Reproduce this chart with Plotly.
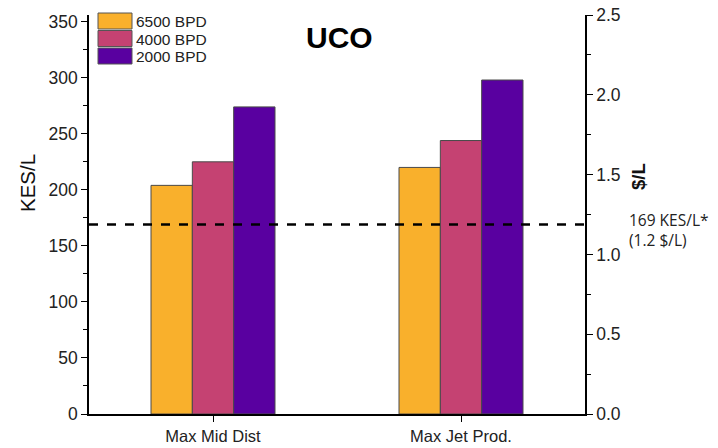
import plotly.graph_objects as go

categories = ["Max Mid Dist", "Max Jet Prod."]
series_names = ["6500 BPD", "4000 BPD", "2000 BPD"]
values_6500 = [204, 220]
values_4000 = [225, 244]
values_2000 = [274, 298]
colors = ["#F9B02C", "#C54272", "#5900A0"]
threshold_kes = 169
threshold_label = "169 KES/L*<br>(1.2 $/L)"
left_ticks = [0, 50, 100, 150, 200, 250, 300, 350]
right_ticks = [0.0, 0.5, 1.0, 1.5, 2.0, 2.5]

FONT = "Liberation Sans, Arial, sans-serif"
W, H = 718, 448
ML, MR, MT, MB = 89, 133, 15, 34
PW, PH = W - ML - MR, H - MT - MB


def px_x(p):
    return (p - ML) / PW


def px_y(p):
    return (H - MB - p) / PH


fig = go.Figure()
for name, vals, col in zip(series_names, [values_6500, values_4000, values_2000], colors):
    fig.add_trace(go.Bar(
        x=categories, y=vals, name=name, showlegend=False,
        marker=dict(color=col, line=dict(color="#4a4a4a", width=1)),
    ))

# invisible trace to activate the right axis
fig.add_trace(go.Scatter(x=categories, y=[None, None], yaxis="y2",
                         showlegend=False, hoverinfo="skip"))

fig.add_shape(type="line", xref="paper", yref="y", x0=0, x1=1,
              y0=threshold_kes, y1=threshold_kes,
              line=dict(color="black", width=2.5, dash="dash"))

# legend drawn as boxes + text
row_top = 13
row_h = 17.5
for i, (name, col) in enumerate(zip(series_names, colors)):
    y0 = row_top + i * row_h
    fig.add_shape(type="rect", xref="paper", yref="paper",
                  x0=px_x(98), x1=px_x(132), y0=px_y(y0 + 16), y1=px_y(y0),
                  fillcolor=col, line=dict(color="#555555", width=1))
    fig.add_annotation(text=name, xref="paper", yref="paper",
                       x=px_x(134), y=px_y(y0 + 8.5), xanchor="left", yanchor="middle",
                       showarrow=False, font=dict(size=15.5, color="#222222", family=FONT))

fig.update_layout(
    width=W, height=H,
    margin=dict(l=ML, r=MR, t=MT, b=MB, autoexpand=False),
    paper_bgcolor="white", plot_bgcolor="white",
    barmode="group", bargap=0.5, bargroupgap=0,
    font=dict(family=FONT, size=15, color="#222222"),
    showlegend=False,
    xaxis=dict(range=[-0.5, 1.5], showline=True, linecolor="black", linewidth=1.5,
               ticks="outside", ticklen=6, tickcolor="black", showgrid=False,
               zeroline=False, tickfont=dict(size=16.5), automargin=False),
    yaxis=dict(range=[0, 356], tickvals=left_ticks, showline=True, linecolor="black",
               linewidth=1.5, ticks="outside", ticklen=6, tickcolor="black",
               showgrid=False, zeroline=False, tickfont=dict(size=17.5), automargin=False,
               minor=dict(ticks="outside", ticklen=4, dtick=25, tickcolor="black")),
    yaxis2=dict(range=[0, 2.5], overlaying="y", side="right", tickvals=right_ticks,
                tickformat=".1f", showline=True, linecolor="black", linewidth=1.5,
                ticks="outside", ticklen=6, tickcolor="black", showgrid=False,
                zeroline=False, tickfont=dict(size=17.5), automargin=False,
                minor=dict(ticks="outside", ticklen=4, dtick=0.25, tickcolor="black")),
)

fig.add_annotation(text="<b>UCO</b>", xref="paper", yref="paper", x=px_x(339), y=px_y(37),
                   xanchor="center", yanchor="middle",
                   showarrow=False, font=dict(size=30, color="black", family=FONT))
fig.add_annotation(text="KES/L", xref="paper", yref="paper", x=px_x(27), y=px_y(183),
                   xanchor="center", yanchor="middle", textangle=-90, showarrow=False,
                   font=dict(size=20.5, color="#111111", family=FONT))
fig.add_annotation(text="<b>$/L</b>", xref="paper", yref="paper", x=px_x(638), y=px_y(177),
                   xanchor="center", yanchor="middle", textangle=-90, showarrow=False,
                   font=dict(size=18.5, color="#111111", family=FONT))
fig.add_annotation(text=threshold_label, xref="paper", yref="paper", x=px_x(627), y=px_y(230),
                   xanchor="left", yanchor="middle", align="left", showarrow=False,
                   font=dict(size=15.5, color="#222222", family="Open Sans, sans-serif"))

fig.write_html("out.html", config={"displayModeBar": False},
               post_script="document.body.style.margin='0';document.body.style.padding='0';")
